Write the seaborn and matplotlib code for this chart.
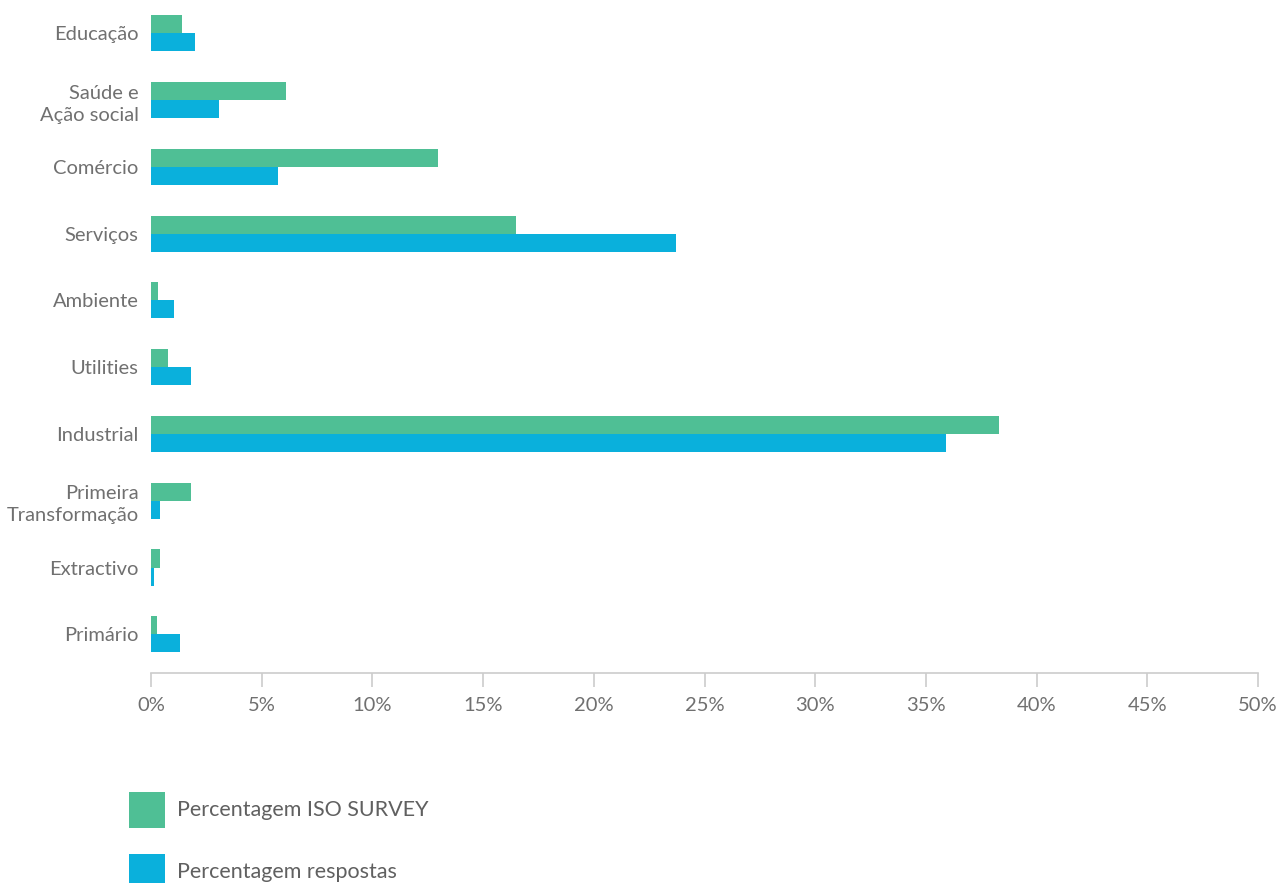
import matplotlib
matplotlib.use("Agg")
import matplotlib.pyplot as plt
from matplotlib.patches import Patch
import pandas as pd
import seaborn as sns

categories = ["Educação", "Saúde e\nAção social", "Comércio", "Serviços", "Ambiente",
              "Utilities", "Industrial", "Primeira\nTransformação", "Extractivo", "Primário"]
iso_survey = [1.4, 6.1, 12.95, 16.5, 0.3, 0.75, 38.3, 1.8, 0.4, 0.27]
respostas = [2.0, 3.05, 5.75, 23.7, 1.05, 1.8, 35.9, 0.4, 0.12, 1.3]
series_names = ["Percentagem ISO SURVEY", "Percentagem respostas"]
series_colors = ["#4FBF95", "#0AB0DC"]
x_ticks = [0, 5, 10, 15, 20, 25, 30, 35, 40, 45, 50]

df = pd.DataFrame({
    "categoria": categories * 2,
    "valor": iso_survey + respostas,
    "serie": [series_names[0]] * len(categories) + [series_names[1]] * len(categories),
})

sns.set_theme(style="white")
plt.rcParams["font.family"] = ["Lato", "DejaVu Sans"]

fig = plt.figure(figsize=(12.78, 8.83), dpi=100)
ax = fig.add_axes([151 / 1278, (883 - 673) / 883, 1107 / 1278, 673 / 883])

sns.barplot(data=df, x="valor", y="categoria", hue="serie", orient="h",
            palette=series_colors, width=0.54, saturation=1, legend=False,
            errorbar=None, linewidth=0, ax=ax)

ax.set_xlim(0, 50)
ax.set_ylim(9.58, -0.5)
ax.set_xticks(x_ticks)
ax.set_xticklabels([f"{t}%" for t in x_ticks])
ax.set_xlabel("")
ax.set_ylabel("")

for side in ["top", "right", "left"]:
    ax.spines[side].set_visible(False)
ax.spines["bottom"].set_color("#cccccc")
ax.spines["bottom"].set_linewidth(1.2)

ax.tick_params(axis="x", bottom=True, length=10, width=1.2, color="#cccccc",
               pad=7, labelsize=14.5, labelcolor="#707070")
ax.tick_params(axis="y", left=False, pad=3, labelsize=14.5, labelcolor="#707070")
for lbl in ax.get_yticklabels():
    lbl.set_linespacing(1.35)

handles = [Patch(facecolor=c, edgecolor="none", label=n) for c, n in zip(series_colors, series_names)]
fig.legend(handles=handles, loc="upper left", bbox_to_anchor=(120 / 1278, 1 - 783 / 883),
           frameon=False, fontsize=15.5, handlelength=1.7, handleheight=2.2,
           handletextpad=0.55, labelspacing=1.2, labelcolor="#606060", borderaxespad=0)

fig.savefig("out.png", dpi=100)
